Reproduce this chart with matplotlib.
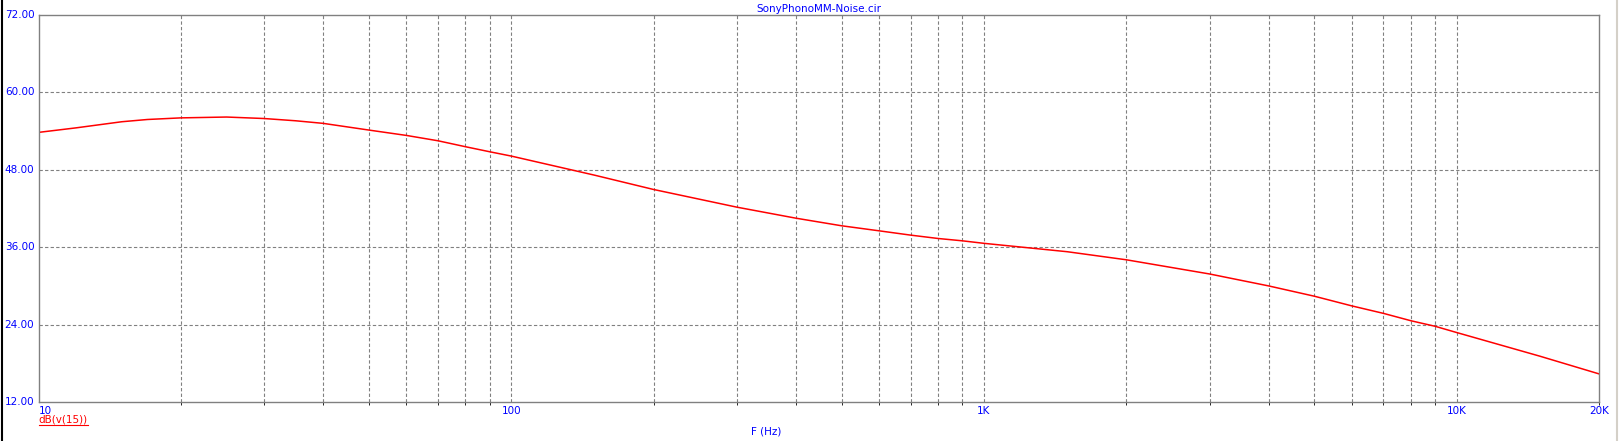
import numpy as np
import matplotlib.pyplot as plt
from matplotlib.lines import Line2D

freq = [10, 12, 15, 17, 20, 25, 30, 35, 40, 50, 60, 70, 80, 90, 100, 150,
        200, 300, 400, 500, 600, 700, 800, 900, 1000, 1500, 2000, 3000, 4000,
        5000, 6000, 7000, 8000, 9000, 10000, 15000, 20000]
db_v15 = [53.8, 54.5, 55.45, 55.8, 56.05, 56.18, 55.95, 55.6, 55.2, 54.16,
          53.33, 52.5, 51.58, 50.8, 50.13, 47.17, 44.95, 42.21, 40.5, 39.32,
          38.54, 37.87, 37.35, 36.99, 36.6, 35.3, 34.05, 31.85, 30.0, 28.4,
          26.9, 25.74, 24.6, 23.74, 22.77, 19.1, 16.36]

x_labels = {10: "10", 100: "100", 1000: "1K", 10000: "10K", 20000: "20K"}
y_ticks = [12, 24, 36, 48, 60, 72]

W, H = 1619, 441
blue = "#0000ff"
grid_color = "#808080"
fs = 7.5

fig = plt.figure(figsize=(W / 100, H / 100), dpi=100)
left, right, top, bottom = 38.5, 1599, 15, 402
ax = fig.add_axes([left / W, (H - bottom) / H, (right - left) / W, (bottom - top) / H])

ax.semilogx(freq, db_v15, color="red", lw=1.1)
ax.set_xlim(10, 20000)
ax.set_ylim(12, 72)

# grid: decade subdivisions
for dec in [10, 100, 1000, 10000]:
    for m in range(1, 10):
        f = dec * m
        if 10 < f < 20000:
            ax.axvline(f, color=grid_color, lw=0.8, ls=(0, (3, 2)), zorder=0)
for y in y_ticks[1:-1]:
    ax.axhline(y, color=grid_color, lw=0.8, ls=(0, (3, 2)), zorder=0)

for s in ax.spines.values():
    s.set_color(grid_color)
    s.set_linewidth(1.0)

ax.set_xticks([])
ax.set_yticks([])

for f, lab in x_labels.items():
    ha = "left" if f == 10 else "center"
    ax.annotate(lab, (f, 12), xytext=(0, -3), textcoords="offset points",
                ha=ha, va="top", color=blue, fontsize=fs)
for y in y_ticks:
    ax.annotate(f"{y:.2f}", (10, y), xytext=(-3, 0), textcoords="offset points",
                ha="right", va="center", color=blue, fontsize=fs)

fig.text((left + right) / 2 / W, 1 - 9 / H, "SonyPhonoMM-Noise.cir",
         ha="center", va="center", color=blue, fontsize=fs)
fig.text(766 / W, 1 - 431 / H, "F (Hz)", ha="center", va="center",
         color=blue, fontsize=fs)
t = fig.text(38.5 / W, 1 - 420 / H, "dB(v(15))", ha="left", va="center",
             color="red", fontsize=fs)
fig.canvas.draw()
bb = t.get_window_extent()
fig.add_artist(Line2D([bb.x0 / W, bb.x1 / W], [(H - 425) / H] * 2,
                      color="red", lw=0.8))

# window borders
fig.add_artist(Line2D([1.5 / W] * 2, [0, 1], color="black", lw=1.5))
fig.add_artist(Line2D([1616.5 / W] * 2, [0, 1], color="#d4d0c8", lw=1.5))

fig.savefig("out.png", dpi=100)
